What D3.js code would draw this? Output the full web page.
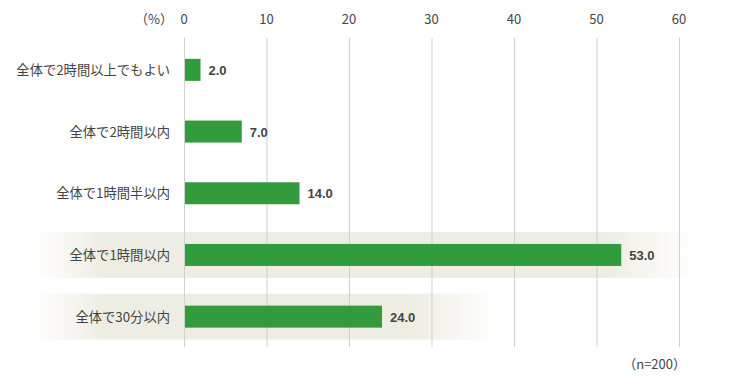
<!DOCTYPE html>
<html><head><meta charset="utf-8">
<script src="https://cdn.jsdelivr.net/npm/d3@7/dist/d3.min.js"></script>
<style>
body{margin:0;background:#fff;}
svg{display:block;}
</style></head>
<body>
<svg id="c" width="753" height="379"></svg>
<script>
const categories = ["全体で2時間以上でもよい","全体で2時間以内","全体で1時間半以内","全体で1時間以内","全体で30分以内"];
const values = [2.0, 7.0, 14.0, 53.0, 24.0];
const ticks = [0,10,20,30,40,50,60];
const highlighted = [false,false,false,true,true];
const highlightEnd = [0,0,0,62,38]; // in axis units, where the row shading fades out
const unitLabel = "（%）";
const nLabel = "（n=200）";

const svg = d3.select("#c");
const jp = "'Noto Sans CJK JP','Noto Sans',sans-serif";
const x = d3.scaleLinear().domain([0,60]).range([184,679]);
const y = d3.scaleBand().domain(categories).range([39,347.5]).padding(0);

const defs = svg.append("defs");
const hl = svg.append("g");
categories.forEach((c,i)=>{
  if(!highlighted[i]) return;
  const x0 = 34, x1 = x(highlightEnd[i]);
  const id = "g"+i;
  const g = defs.append("linearGradient").attr("id",id).attr("gradientUnits","userSpaceOnUse")
    .attr("x1",x0).attr("x2",x1).attr("y1",0).attr("y2",0);
  const w = x1-x0;
  const fadeR = Math.min(90, w*0.2);
  g.append("stop").attr("offset",0).attr("stop-color","#eeede3").attr("stop-opacity",0);
  g.append("stop").attr("offset",70/w).attr("stop-color","#eeede3").attr("stop-opacity",1);
  g.append("stop").attr("offset",1-fadeR/w).attr("stop-color","#eeede3").attr("stop-opacity",1);
  g.append("stop").attr("offset",1).attr("stop-color","#eeede3").attr("stop-opacity",0);
  const cy = y(c)+y.bandwidth()/2;
  hl.append("rect").attr("x",x0).attr("width",w).attr("y",cy-23).attr("height",46).attr("fill","url(#"+id+")");
});

// grid
svg.append("g").selectAll("line").data(ticks).join("line")
  .attr("x1",d=>x(d)+0.5).attr("x2",d=>x(d)+0.5).attr("y1",38).attr("y2",347)
  .attr("stroke","#d0d0d0").attr("stroke-width",1);

// tick labels
svg.append("g").selectAll("text").data(ticks).join("text")
  .attr("x",d=>x(d)).attr("y",24).attr("text-anchor","middle")
  .attr("font-family",jp).attr("font-size",13).attr("fill","#444").text(d=>d);
svg.append("text").attr("x",173).attr("y",24).attr("text-anchor","end")
  .attr("font-family",jp).attr("font-size",13).attr("fill","#444").text(unitLabel);

// bars
svg.append("g").selectAll("rect").data(values).join("rect")
  .attr("x",x(0)+1).attr("y",(d,i)=>y(categories[i])+y.bandwidth()/2-11)
  .attr("width",d=>x(d)-x(0)-1).attr("height",22).attr("fill","#319b3d");

// value labels
svg.append("g").selectAll("text").data(values).join("text")
  .attr("x",d=>x(d)+8).attr("y",(d,i)=>y(categories[i])+y.bandwidth()/2+5)
  .attr("font-family","'Liberation Sans',Arial,sans-serif").attr("font-weight","bold")
  .attr("font-size",13).attr("fill","#444").text(d=>d.toFixed(1));

// category labels
svg.append("g").selectAll("text").data(categories).join("text")
  .attr("x",170).attr("y",d=>y(d)+y.bandwidth()/2+5).attr("text-anchor","end")
  .attr("font-family",jp).attr("font-size",13.3).attr("fill","#444").text(d=>d);

svg.append("text").attr("x",686).attr("y",369).attr("text-anchor","end")
  .attr("font-family",jp).attr("font-size",13).attr("fill","#444").text(nLabel);
</script>
</body></html>
